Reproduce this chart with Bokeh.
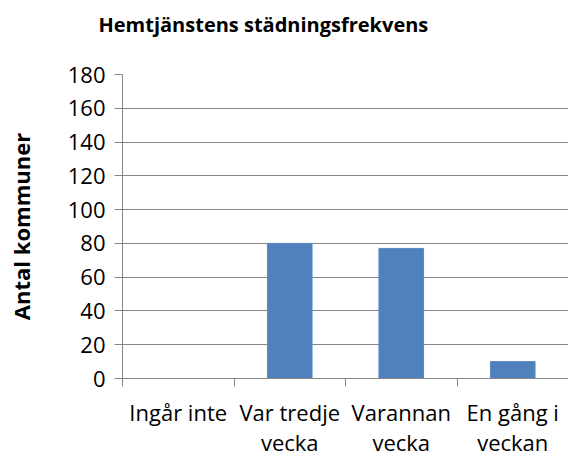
from bokeh.plotting import figure
from bokeh.models import Range1d, FixedTicker, ColumnDataSource, Title
from bokeh.embed import file_html
from bokeh.resources import INLINE

title = "Hemtjänstens städningsfrekvens"
y_label = "Antal kommuner"
categories = ["Ingår inte", "Var tredje\nvecka", "Varannan\nvecka", "En gång i\nveckan"]
values = [0, 80, 77, 10]
y_ticks = [0, 20, 40, 60, 80, 100, 120, 140, 160, 180]

centers = [i + 0.5 for i in range(len(categories))]
bounds = [i for i in range(len(categories) + 1)]

p = figure(frame_width=446, frame_height=304, output_backend="svg", toolbar_location=None,
           x_range=Range1d(0, len(categories)), y_range=Range1d(0, 180),
           min_border_left=122, min_border_right=0, min_border_top=74, min_border_bottom=85)
p.outline_line_color = None
p.background_fill_color = "white"
p.border_fill_color = "white"

src = ColumnDataSource(dict(x=centers, top=values))
p.vbar(x="x", top="top", width=0.4, source=src, fill_color="#4F81BD", line_color="#5A8AC6", line_width=1)

grey = "#868686"
font = "Open Sans"

p.title.text = title
p.title.text_font = font
p.title.text_font_size = "20px"
p.title.text_font_style = "bold"
p.title.align = "left"
p.title.offset = -24
p.title.standoff = 10
p.title.text_color = "black"

spacer = Title(text=" ", text_font=font, text_font_size="22px", standoff=0)
p.add_layout(spacer, "above")

ya = p.yaxis[0]
ya.ticker = FixedTicker(ticks=y_ticks)
ya.axis_line_color = grey
ya.major_tick_line_color = grey
ya.major_tick_in = 0
ya.major_tick_out = 8
ya.minor_tick_line_color = None
ya.major_label_text_font = font
ya.major_label_text_font_size = "22px"
ya.major_label_text_color = "black"
ya.major_label_standoff = 9
ya.axis_label = y_label
ya.axis_label_text_font = font
ya.axis_label_text_font_size = "22px"
ya.axis_label_text_font_style = "bold"
ya.axis_label_text_color = "black"
ya.axis_label_standoff = 29

xa = p.xaxis[0]
xa.ticker = FixedTicker(ticks=centers, minor_ticks=bounds)
xa.major_label_overrides = {c: lab for c, lab in zip(centers, categories)}
xa.axis_line_color = grey
xa.major_tick_line_color = None
xa.major_tick_in = 0
xa.major_tick_out = 0
xa.minor_tick_line_color = grey
xa.minor_tick_in = 0
xa.minor_tick_out = 8
xa.major_label_text_font = font
xa.major_label_text_font_size = "22px"
xa.major_label_text_color = "black"
xa.major_label_text_line_height = 1.03
xa.major_label_standoff = 10

p.xgrid.grid_line_color = None
p.ygrid.ticker = FixedTicker(ticks=y_ticks)
p.ygrid.grid_line_color = grey
p.ygrid.grid_line_width = 1

open("out.html", "w").write(file_html(p, INLINE))
